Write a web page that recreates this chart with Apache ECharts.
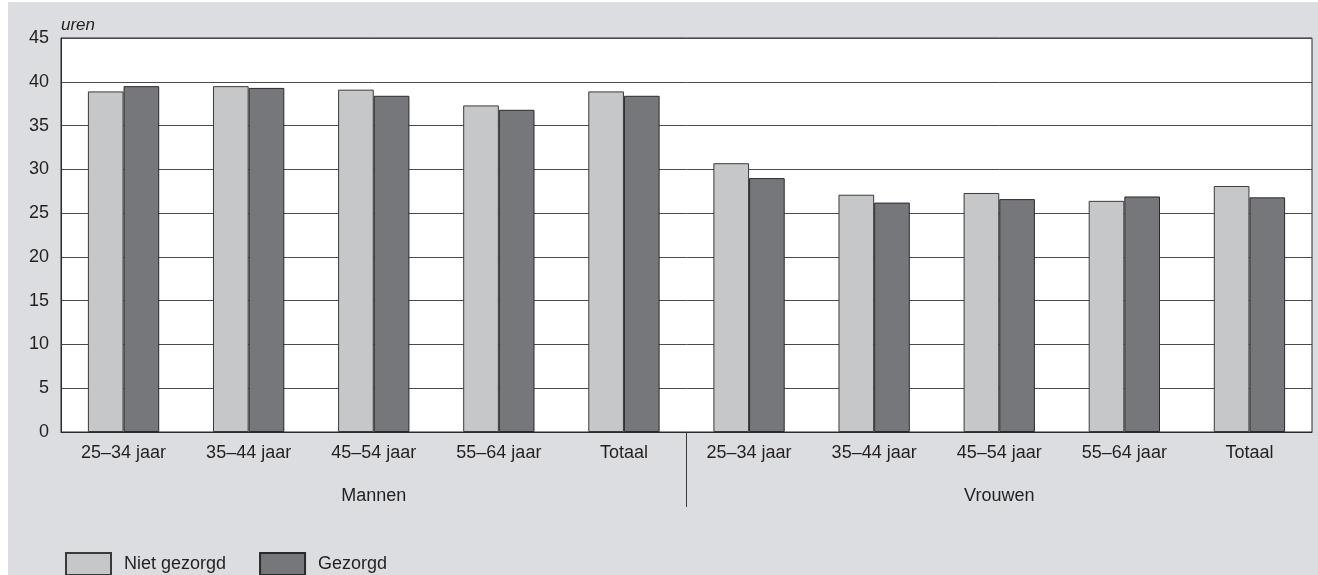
<!DOCTYPE html>
<html>
<head>
<meta charset="utf-8">
<script src="https://cdn.jsdelivr.net/npm/echarts@6/dist/echarts.min.js"></script>
<style>
html, body { margin: 0; padding: 0; background: #ffffff; }
#bg { position: absolute; left: 8px; top: 2px; right: 0; bottom: 0; background: #dcdde0; }
#chart { position: absolute; left: 0; top: 0; width: 1318px; height: 575px; }
</style>
</head>
<body>
<div id="bg"></div>
<div id="chart"></div>
<script>
const genders = ['Mannen', 'Vrouwen'];
const ageGroups = ['25–34 jaar', '35–44 jaar', '45–54 jaar', '55–64 jaar', 'Totaal'];
const seriesNames = ['Niet gezorgd', 'Gezorgd'];
const nietGezorgd = [38.9, 39.5, 39.1, 37.3, 38.9, 30.7, 27.1, 27.3, 26.4, 28.1];
const gezorgd     = [39.5, 39.3, 38.4, 36.8, 38.4, 29.0, 26.2, 26.6, 26.9, 26.8];
const yTicks = { min: 0, max: 45, interval: 5 };
const yName = 'uren';

const categories = [];
genders.forEach(g => ageGroups.forEach(a => categories.push(g + '|' + a)));

const font = 'Liberation Sans, Arial, Helvetica, sans-serif';
const textColor = '#231f20';

const chart = echarts.init(document.getElementById('chart'), null, { renderer: 'canvas' });
chart.setOption({
  backgroundColor: 'transparent',
  animation: false,
  textStyle: { fontFamily: font },
  grid: {
    left: 61, right: 6, top: 38, bottom: 143,
    show: true, backgroundColor: '#ffffff', borderColor: '#2a2a2a', borderWidth: 1
  },
  legend: {
    left: 60, top: 547,
    itemWidth: 45, itemHeight: 22, itemGap: 33,
    icon: 'rect',
    data: seriesNames,
    textStyle: { fontSize: 18, color: textColor, fontFamily: font, padding: [0, 0, 0, 8] }
  },
  xAxis: [
    {
      type: 'category',
      data: categories,
      gridIndex: 0,
      axisLine: { show: true, lineStyle: { color: '#2a2a2a', width: 1 } },
      axisTick: { show: false },
      axisLabel: {
        fontSize: 18, color: textColor, margin: 12, interval: 0,
        formatter: v => v.split('|')[1]
      }
    },
    {
      type: 'category',
      data: genders,
      gridIndex: 0,
      position: 'bottom',
      axisLine: { show: false },
      axisTick: { show: false },
      axisLabel: { fontSize: 18, color: textColor, margin: 55, interval: 0 }
    },
    {
      type: 'category',
      data: ['', '', ''],
      boundaryGap: false,
      gridIndex: 0,
      position: 'bottom',
      axisLine: { show: false },
      axisLabel: { show: false },
      axisTick: {
        show: true, length: 75, interval: (i) => i === 1,
        lineStyle: { color: '#3a3a3a', width: 1 }
      }
    }
  ],
  yAxis: {
    type: 'value',
    min: yTicks.min, max: yTicks.max, interval: yTicks.interval,
    name: yName,
    nameLocation: 'end',
    nameGap: 13,
    nameTextStyle: { fontStyle: 'italic', fontSize: 17, color: textColor, align: 'left', verticalAlign: 'middle', fontFamily: font },
    axisLine: { show: true, lineStyle: { color: '#2a2a2a' } },
    axisTick: { show: false },
    axisLabel: { fontSize: 18, color: textColor, margin: 12 },
    splitLine: { show: true, lineStyle: { color: '#4a4a4a', width: 1 } }
  },
  series: [
    {
      name: seriesNames[0], type: 'bar', data: nietGezorgd,
      barGap: '0%', barCategoryGap: '43%',
      itemStyle: { color: '#c6c7c9', borderColor: '#3a3a3a', borderWidth: 1 }
    },
    {
      name: seriesNames[1], type: 'bar', data: gezorgd,
      barGap: '0%', barCategoryGap: '43%',
      itemStyle: { color: '#76777b', borderColor: '#2a2a2a', borderWidth: 1 }
    }
  ]
});
</script>
</body>
</html>
